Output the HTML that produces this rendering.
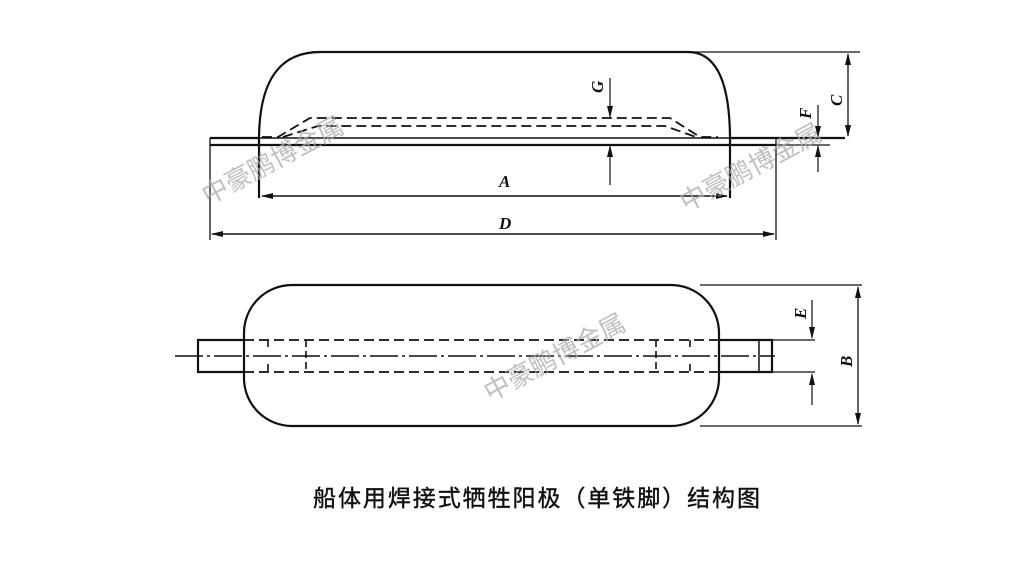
<!DOCTYPE html>
<html><head><meta charset="utf-8"><style>
html,body{margin:0;padding:0;background:#fff;width:1024px;height:580px;overflow:hidden}
svg{display:block}
</style></head><body>
<svg width="1024" height="580" viewBox="0 0 1024 580" xmlns="http://www.w3.org/2000/svg">
<defs>
<marker id="ar" markerWidth="12" markerHeight="8" refX="11" refY="4" orient="auto-start-reverse" markerUnits="userSpaceOnUse">
<path d="M0,1 L12,4 L0,7 Z" fill="#111"/></marker>
</defs>
<g stroke="#111" stroke-width="2.2" fill="none">
<path d="M259,198 L259,140 C259,80 280,52 320,52 L688,52 C715,52 730,80 730,140 L730,198"/>
<path d="M210,138 L259,138 M730,138 L845,138"/>
<path d="M210,145 L776,145" />
<path d="M210,138 L210,240 M776,138 L776,240" stroke-width="1.3"/>
<path d="M259,138 L730,138" stroke-width="1.5"/>
<path d="M262,137 L278,137 L310,118 L670,118 L700,137 L718,137" stroke-dasharray="10,5" stroke-width="1.8"/>
<path d="M283,137 L318,126 L665,126 L696,137" stroke-dasharray="10,5" stroke-width="1.8"/>
<path d="M688,52 L860,52" stroke-width="1.3"/>
<path d="M730,145 L830,145" stroke-width="1.3"/>
<path d="M610,78 L610,117" stroke-width="1.2" marker-end="url(#ar)"/>
<path d="M610,185 L610,146" stroke-width="1.2" marker-end="url(#ar)"/>
<path d="M818,105 L818,137" stroke-width="1.2" marker-end="url(#ar)"/>
<path d="M818,172 L818,146" stroke-width="1.2" marker-end="url(#ar)"/>
<path d="M848,54 L848,136" stroke-width="1.3" marker-start="url(#ar)" marker-end="url(#ar)"/>
<path d="M262,196 L727,196" stroke-width="1.6" marker-start="url(#ar)" marker-end="url(#ar)"/>
<path d="M212,234 L774,234" stroke-width="1.6" marker-start="url(#ar)" marker-end="url(#ar)"/>

<rect x="244" y="285" width="475" height="141" rx="48" ry="48"/>
<path d="M700,285 L862,285 M700,426 L862,426" stroke-width="1.3"/>
<path d="M244,340 L198,340 L198,372 L244,372"/>
<path d="M719,340 L772,340 L772,372 L719,372"/>
<path d="M759,340 L759,372" stroke-width="1.5"/>
<path d="M772,340 L815,340 M772,372 L815,372" stroke-width="1.3"/>
<path d="M175,356 L775,356" stroke-width="1.4" stroke-dasharray="28,4,3,4"/>
<path d="M244,340 L719,340 M244,372 L719,372" stroke-dasharray="10,5" stroke-width="1.8"/>
<path d="M268,340 L268,348 M268,364 L268,372 M306,340 L306,372 M656,340 L656,372 M690,340 L690,348 M690,364 L690,372" stroke-dasharray="7,4" stroke-width="1.6"/>
<path d="M812,300 L812,338" stroke-width="1.2" marker-end="url(#ar)"/>
<path d="M812,405 L812,374" stroke-width="1.2" marker-end="url(#ar)"/>
<path d="M858,287 L858,424" stroke-width="1.3" marker-start="url(#ar)" marker-end="url(#ar)"/>
</g>
<g font-family="Liberation Serif, serif" font-style="italic" font-weight="bold" font-size="17" fill="#111">
<text x="499" y="187">A</text>
<text x="499" y="229">D</text>
<text transform="translate(603,93) rotate(-90)">G</text>
<text transform="translate(811,119) rotate(-90)">F</text>
<text transform="translate(842,106) rotate(-90)">C</text>
<text transform="translate(806,319) rotate(-90)">E</text>
<text transform="translate(852,367) rotate(-90)">B</text>
</g>
<g font-family="Liberation Sans, Noto Sans CJK SC, sans-serif" font-size="26" fill="#aaa" fill-opacity="0.75">
<text transform="translate(208,205) rotate(-28)">中豪鹏博金属</text>
<text transform="translate(686,212) rotate(-28)">中豪鹏博金属</text>
<text transform="translate(490,402) rotate(-28)">中豪鹏博金属</text>
</g>
<text x="313" y="506" font-family="Liberation Sans, Noto Sans CJK SC, sans-serif" font-size="23" fill="#111" stroke="#111" stroke-width="0.4" textLength="447" lengthAdjust="spacing">船体用焊接式牺牲阳极（单铁脚）结构图</text>
</svg>
</body></html>
